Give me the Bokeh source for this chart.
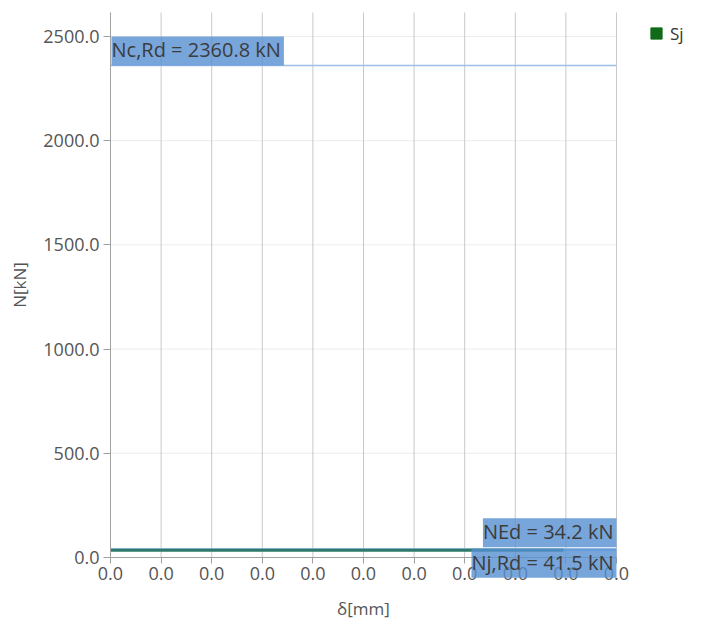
from bokeh.plotting import figure
from bokeh.models import Label, Legend, LegendItem, FixedTicker, Range1d
from bokeh.embed import file_html
from bokeh.resources import INLINE

# data
x_ticks = [0.0, 0.001, 0.002, 0.003, 0.004, 0.005, 0.006, 0.007, 0.008, 0.009, 0.010]
x_tick_labels = ["0.0"] * 11
y_ticks = [0, 500, 1000, 1500, 2000, 2500]
y_tick_labels = ["0.0", "500.0", "1000.0", "1500.0", "2000.0", "2500.0"]
sj_delta = [0.0, 0.00895]
sj_N = [34.2, 34.2]
Nc_Rd = 2360.8
N_Ed = 34.2
Nj_Rd = 41.5
x_end = 0.010      # axis end
y_top = 2615       # axis top
# visible extents around the axes (room for tick labels, axis titles and legend)
x_view = (-0.0021739, 0.011621)
y_view = (-302.3, 2672.6)

FONT = "Open Sans"
TXT = "#555555"

p = figure(output_backend="svg", toolbar_location=None,
           width=698, height=620,
           x_range=Range1d(*x_view), y_range=Range1d(*y_view),
           min_border_left=0, min_border_top=0, min_border_bottom=0,
           min_border_right=0)
p.outline_line_color = None
p.background_fill_color = "white"
p.xgrid.visible = False
p.ygrid.visible = False

for ax in (p.xaxis[0], p.yaxis[0]):
    ax.axis_line_color = "#a0a0a0"
    ax.major_tick_line_color = "#a0a0a0"
    ax.minor_tick_line_color = None
    ax.major_tick_in = 0
    ax.major_label_text_font = FONT
    ax.major_label_text_font_size = "18px"
    ax.major_label_text_color = TXT
    ax.axis_label_text_font = FONT
    ax.axis_label_text_font_size = "17px"
    ax.axis_label_text_font_style = "normal"
    ax.axis_label_text_color = TXT

p.xaxis.fixed_location = 0
p.yaxis.fixed_location = 0
p.xaxis.bounds = (0, x_end)
p.yaxis.bounds = (0, y_top)
p.xaxis.ticker = FixedTicker(ticks=x_ticks)
p.xaxis.major_label_overrides = {t: l for t, l in zip(x_ticks, x_tick_labels)}
p.yaxis.ticker = FixedTicker(ticks=y_ticks)
p.yaxis.major_label_overrides = {t: l for t, l in zip(y_ticks, y_tick_labels)}
p.xaxis.axis_label = "δ[mm]"
p.yaxis.axis_label = "N[kN]"
p.xaxis.major_tick_out = 6
p.yaxis.major_tick_out = 7
p.xaxis.major_label_standoff = 4
p.yaxis.major_label_standoff = 4
p.xaxis.axis_label_standoff = 13
p.yaxis.axis_label_standoff = 9

# grid lines at tick positions, limited to the axis extents
p.segment(x0=[0] * len(y_ticks), y0=y_ticks, x1=[x_end] * len(y_ticks), y1=y_ticks,
          line_color="#ececec", line_width=1, level="underlay")
p.segment(x0=x_ticks, y0=[0] * len(x_ticks), x1=x_ticks, y1=[y_top] * len(x_ticks),
          line_color="#c8c8c8", line_width=1, level="underlay")

# reference lines
for val in (Nc_Rd, N_Ed, Nj_Rd):
    p.line([0, x_end], [val, val], line_color="#9dc0e8", line_width=1.5)

# Sj curve
p.line(sj_delta, sj_N, line_color="#2b7a6a", line_width=3)
leg_r = p.scatter(sj_delta, sj_N, marker="square", size=0,
                  fill_color="#0f6b17", line_color="#0f6b17")
legend = Legend(items=[LegendItem(label="Sj", renderers=[leg_r])],
                location=(642, 573), border_line_color=None,
                background_fill_alpha=0, label_text_font=FONT,
                label_text_font_size="17px", label_text_color="#333333",
                glyph_width=28, glyph_height=28, margin=0, padding=0,
                label_standoff=0)
p.add_layout(legend)

box_kw = dict(text_font=FONT, text_font_size="20px", text_color="#3c3c3c",
              background_fill_color="#5690d2", background_fill_alpha=0.8,
              padding=(0, 3, 0, 2))
p.add_layout(Label(x=0, y=Nc_Rd, x_offset=1, text="Nc,Rd = 2360.8 kN",
                   text_align="left", text_baseline="bottom", **box_kw))
p.add_layout(Label(x=x_end, y=N_Ed, y_offset=3, text="NEd = 34.2 kN",
                   text_align="right", text_baseline="bottom", **box_kw))
p.add_layout(Label(x=x_end, y=Nj_Rd, text="Nj,Rd = 41.5 kN",
                   text_align="right", text_baseline="top", **box_kw))

open("out.html", "w").write(file_html(p, INLINE))
